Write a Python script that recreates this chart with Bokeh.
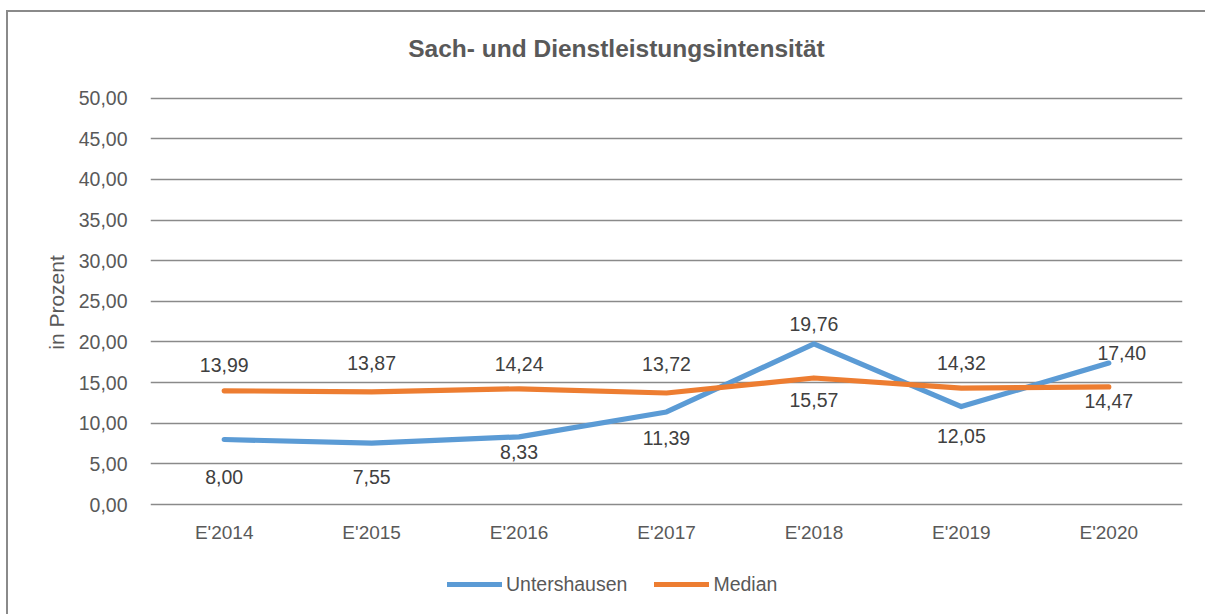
from bokeh.plotting import figure
from bokeh.models import ColumnDataSource, FactorRange, Range1d, Legend, LegendItem, Label
from bokeh.core.properties import value
from bokeh.embed import file_html
from bokeh.resources import INLINE

# ---------------- data ----------------
categories = ["E'2014", "E'2015", "E'2016", "E'2017", "E'2018", "E'2019", "E'2020"]
untershausen = [8.00, 7.55, 8.33, 11.39, 19.76, 12.05, 17.40]
median = [13.99, 13.87, 14.24, 13.72, 15.57, 14.32, 14.47]
y_ticks = [0, 5, 10, 15, 20, 25, 30, 35, 40, 45, 50]
y_tick_labels = ["0,00", "5,00", "10,00", "15,00", "20,00", "25,00",
                 "30,00", "35,00", "40,00", "45,00", "50,00"]
series_names = ["Untershausen", "Median"]
title_text = "Sach- und Dienstleistungsintensität"
y_axis_title = "in Prozent"

# ---------------- style ----------------
FONT = "Liberation Sans"
TXT = "#595959"
LBL = "#404040"
BLUE = "#5B9BD5"
ORANGE = "#ED7D31"
FRAME = "#8a8a8a"
# data label pixel offsets (placement style)
u_dx = [0, 0, 0, 0, 0, 0, 13]
u_dy = [38, 34, 15, 26, -20, 29, -10]
m_dx = [0, 0, 0, 0, 0, 0, 0]
m_dy = [-26, -29, -25, -29, 22, -25, 14]


def fmt(v):
    return f"{v:.2f}".replace(".", ",")


src_u = ColumnDataSource(dict(x=categories, y=untershausen,
                              t=[fmt(v) for v in untershausen], dx=u_dx, dy=u_dy))
src_m = ColumnDataSource(dict(x=categories, y=median,
                              t=[fmt(v) for v in median], dx=m_dx, dy=m_dy))

W, H = 1205, 614
# the frame spans the whole chart height (title, category labels and legend
# row live inside it); the value axis and grid cover 0..50 only
p = figure(x_range=FactorRange(*categories), y_range=Range1d(-12.30, 62.01),
           width=W, height=H, output_backend="svg", toolbar_location=None,
           title=None,
           min_border_left=150, min_border_right=23,
           min_border_top=0, min_border_bottom=10)
# chart-area border (left and top edges visible in the reference)
p.styles = {"background":
            f"linear-gradient({FRAME},{FRAME}) 6px 10px / 2px 100% no-repeat, "
            f"linear-gradient({FRAME},{FRAME}) 6px 10px / 100% 2px no-repeat, #ffffff"}
p.border_fill_color = None
p.outline_line_color = None
p.background_fill_color = None

# title (screen units, relative to the plot frame)
p.add_layout(Label(text=title_text, x=466, y=556, x_units="screen", y_units="screen",
                   text_align="center", text_baseline="middle",
                   text_font=FONT, text_font_size="24.5px", text_font_style="bold",
                   text_color=TXT))

# axes
for ax in (p.xaxis, p.yaxis):
    ax.axis_line_color = None
    ax.major_tick_line_color = None
    ax.minor_tick_line_color = None
    ax.major_tick_out = 0
    ax.major_tick_in = 0
    ax.major_label_text_font = FONT
    ax.major_label_text_color = TXT

p.yaxis.major_label_text_font_size = "19.5px"
p.xaxis.major_label_text_font_size = "19px"
p.yaxis.ticker = y_ticks
p.yaxis.bounds = (0, 50)
p.yaxis.major_label_overrides = {t: l for t, l in zip(y_ticks, y_tick_labels)}
p.yaxis.major_label_standoff = 23
p.yaxis.axis_label = y_axis_title
p.yaxis.axis_label_text_font = FONT
p.yaxis.axis_label_text_font_size = "21px"
p.yaxis.axis_label_text_font_style = "normal"
p.yaxis.axis_label_text_color = TXT
p.yaxis.axis_label_standoff = 8
p.xaxis.fixed_location = 0
p.xaxis.major_label_standoff = 17

p.xgrid.grid_line_color = None
p.ygrid.grid_line_color = FRAME
p.ygrid.grid_line_width = 1.6

# lines
r_u = p.line("x", "y", source=src_u, line_color=BLUE, line_width=5.2,
             line_cap="round", line_join="round")
r_m = p.line("x", "y", source=src_m, line_color=ORANGE, line_width=5.2,
             line_cap="round", line_join="round")

# data labels
for s in (src_u, src_m):
    p.text("x", "y", text="t", source=s, x_offset="dx", y_offset="dy",
           text_align="center", text_baseline="middle",
           text_font=value(FONT), text_font_size="19.5px", text_color=LBL)

legend = Legend(items=[LegendItem(label=series_names[0], renderers=[r_u]),
                       LegendItem(label=series_names[1], renderers=[r_m])],
                orientation="horizontal", location=(297, 8))
legend.glyph_width = 55
legend.glyph_height = 24
legend.label_standoff = 4
legend.spacing = 27
legend.padding = 0
legend.margin = 0
legend.border_line_color = None
legend.background_fill_alpha = 0
legend.label_text_font = FONT
legend.label_text_font_size = "19.5px"
legend.label_text_color = TXT
p.add_layout(legend)

open("out.html", "w").write(file_html(p, INLINE))
